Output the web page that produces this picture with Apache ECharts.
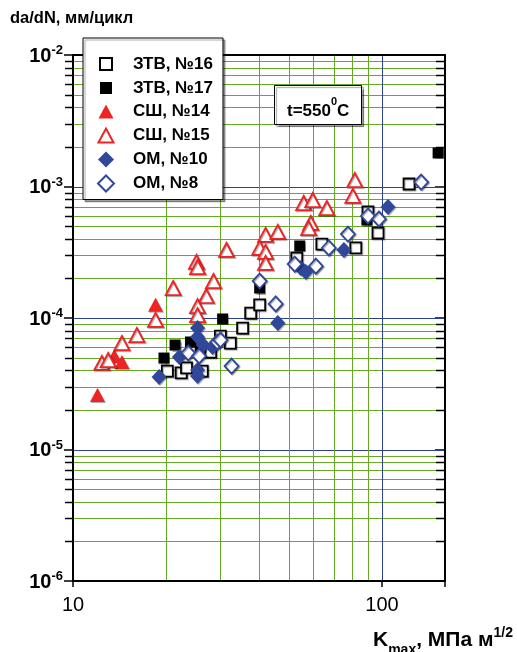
<!DOCTYPE html>
<html><head><meta charset="utf-8">
<script src="https://cdn.jsdelivr.net/npm/echarts@6/dist/echarts.min.js"></script>
<style>html,body{margin:0;padding:0;background:#fff}#c{width:517px;height:652px}</style>
</head><body><div id="c"></div>
<script>
const seriesNames = ['ЗТВ, №16', 'ЗТВ, №17', 'СШ, №14', 'СШ, №15', 'ОМ, №10', 'ОМ, №8'];

const ztv16 = [[20.2,3.95e-5],[22.4,3.82e-5],[23.3,4.17e-5],[26.2,3.95e-5],[27.9,5.51e-5],[30.0,7.29e-5],
  [32.3,6.45e-5],[35.4,8.39e-5],[37.6,1.09e-4],[40.2,1.26e-4],[53.0,2.86e-4],[63.9,3.65e-4],[82.3,3.41e-4],
  [90.1,6.40e-4],[97.1,4.43e-4],[122.4,1.045e-3]];
const ztv17 = [[19.7,4.96e-5],[21.4,6.23e-5],[24.0,6.57e-5],[25.8,6.12e-5],[30.5,9.83e-5],[40.2,1.69e-4],
  [54.2,3.53e-4],[89.4,5.56e-4],[152,1.8e-3]];
const ssh14 = [[18.5,1.26e-4],[12.0,2.6e-5],[13.6,5.14e-5],[14.4,4.63e-5]];
const ssh15 = [[12.4,4.55e-5],[13.0,4.79e-5],[14.4,6.45e-5],[16.1,7.42e-5],[18.5,9.66e-5],[21.1,1.69e-4],
  [25.1,2.67e-4],[25.3,2.44e-4],[28.5,1.91e-4],[27.0,1.47e-4],[25.3,1.23e-4],[25.3,1.05e-4],[31.4,3.29e-4],
  [42.0,4.28e-4],[46.0,4.51e-4],[40.2,3.41e-4],[42.0,3.18e-4],[42.0,2.62e-4],[55.8,7.49e-4],[59.7,7.89e-4],
  [66.3,6.86e-4],[58.8,5.28e-4],[57.9,4.83e-4],[81.7,1.12e-3],[80.5,8.47e-4]];
const om10 = [[19.0,3.56e-5],[22.1,5.05e-5],[25.3,8.39e-5],[25.3,7.17e-5],[26.4,6.23e-5],[25.3,4.02e-5],
  [25.3,3.62e-5],[28.3,6.02e-5],[46.0,9.16e-5],[54.6,2.40e-4],[56.7,2.24e-4],[75.3,3.29e-4],[104.6,6.98e-4]];
const om8 = [[23.6,5.42e-5],[25.6,5.14e-5],[29.3,6.57e-5],[30.0,6.80e-5],[32.6,4.31e-5],[40.2,1.91e-4],
  [45.3,1.28e-4],[52.2,2.57e-4],[61.1,2.48e-4],[67.3,3.41e-4],[77.6,4.35e-4],[90.1,5.97e-4],[97.8,5.66e-4],
  [133.9,1.08e-3]];

const yTickExponents = [-6, -5, -4, -3, -2];
const xTickLabels = ['10', '100'];
const X_MIN = 10, X_MAX = 160, Y_MIN = 1e-6, Y_MAX = 1e-2;
const xMinorGrid = [20, 30, 40, 50, 60, 70, 80, 90];
const xMajorGrid = [100];
const yMajorGrid = [1e-5, 1e-4, 1e-3];
const yMinorGrid = [];
[-6, -5, -4, -3].forEach(function (e) {
  [2, 3, 4, 5, 6, 7, 8, 9].forEach(function (m) { yMinorGrid.push(+(m * Math.pow(10, e)).toPrecision(3)); });
});

const RED = '#ee2424', BLUE = '#30479a', GREEN = '#66aa22', MAJ = '#2e3f90';
const FONT = 'Liberation Sans, Arial, sans-serif';
const shadow = {shadowColor: 'rgba(0,0,0,0.35)', shadowOffsetX: 1, shadowOffsetY: 1, shadowBlur: 1};

// legend icons (16x16 box, inner shape sized like the reference markers)
const ICON_SQ = 'path://M0,0M16,16M2,2L14,2L14,14L2,14Z';
const ICON_TRI = 'path://M0,0M16,16M0.5,15L8,1L15.5,15Z';
const ICON_DIA = 'path://M0,0M16,16M8,0L16,8L8,16L0,8Z';
const legendIcons = [ICON_SQ, ICON_SQ, ICON_TRI, ICON_TRI, ICON_DIA, ICON_DIA];

// grid data: [x, y, kind]  kind 0 = minor, 1 = major
const hLines = yMinorGrid.map(v => [X_MIN, v, 0]).concat(yMajorGrid.map(v => [X_MIN, v, 1]));
const vLines = xMinorGrid.map(v => [v, Y_MIN, 0]).concat(xMajorGrid.map(v => [v, Y_MIN, 1]));

function hRender(params, api) {
  const cs = params.coordSys;
  const y = Math.round(api.coord([api.value(0), api.value(1)])[1]) + 0.5;
  const major = api.value(2) === 1;
  const children = [{
    type: 'line', shape: {x1: cs.x + 1, y1: y, x2: cs.x + cs.width - 1, y2: y},
    style: {stroke: major ? MAJ : GREEN, lineWidth: 1}
  }];
  if (!major) {
    children.push({type: 'line', shape: {x1: cs.x - 8, y1: y, x2: cs.x, y2: y}, style: {stroke: '#000', lineWidth: 1.5}});
    children.push({type: 'line', shape: {x1: cs.x + cs.width - 9, y1: y, x2: cs.x + cs.width, y2: y}, style: {stroke: '#000', lineWidth: 1.5}});
  }
  return {type: 'group', children: children};
}
function vRender(params, api) {
  const cs = params.coordSys;
  const x = Math.round(api.coord([api.value(0), api.value(1)])[0]) + 0.5;
  const major = api.value(2) === 1;
  return {type: 'line', shape: {x1: x, y1: cs.y + 1, x2: x, y2: cs.y + cs.height - 1},
    style: {stroke: major ? MAJ : GREEN, lineWidth: 1}};
}

function sc(name, data, symbol, size, fill, stroke) {
  return {
    name: name, type: 'scatter', data: data, symbol: symbol, symbolSize: size, z: 3,
    itemStyle: Object.assign({color: fill, borderColor: stroke, borderWidth: fill === '#fff' ? 1.8 : 0, opacity: 1}, shadow),
    emphasis: {disabled: true}
  };
}

const chart = echarts.init(document.getElementById('c'), null, {renderer: 'canvas'});
const yLab = {
  show: true, margin: 10,
  formatter: function (v) {
    const e = Math.round(Math.log10(v));
    if (yTickExponents.indexOf(e) < 0) return '';
    return '{b|10}{s|' + e + '}';
  },
  rich: {
    b: {fontSize: 20, fontWeight: 'bold', fontFamily: FONT, color: '#000', lineHeight: 22, verticalAlign: 'bottom'},
    s: {fontSize: 13, fontWeight: 'bold', fontFamily: FONT, color: '#000', lineHeight: 22, verticalAlign: 'top', padding: [0, 0, 6, 0]}
  }
};
chart.setOption({
  animation: false,
  backgroundColor: '#fff',
  grid: {left: 73, right: 72, top: 55, bottom: 71, containLabel: false},
  xAxis: [{
    type: 'log', logBase: 10, min: X_MIN, max: X_MAX, position: 'bottom',
    axisLine: {show: true, lineStyle: {color: '#000', width: 2}},
    axisTick: {show: true, inside: false, length: 6, lineStyle: {color: '#000', width: 1.5}},
    splitLine: {show: false},
    axisLabel: {
      margin: 14, fontSize: 20, fontFamily: FONT, color: '#000',
      formatter: function (v) {
        const s = String(Math.round(v));
        return xTickLabels.indexOf(s) >= 0 ? s : '';
      }
    }
  }, {
    type: 'log', logBase: 10, min: X_MIN, max: X_MAX, position: 'top',
    axisLine: {show: true, lineStyle: {color: '#000', width: 2}},
    axisTick: {show: false}, axisLabel: {show: false}, splitLine: {show: false}
  }],
  yAxis: [{
    type: 'log', logBase: 10, min: Y_MIN, max: Y_MAX, position: 'left',
    axisLine: {show: true, lineStyle: {color: '#000', width: 2}},
    axisTick: {show: true, inside: false, length: 9, lineStyle: {color: '#000', width: 1.5}},
    splitLine: {show: false},
    axisLabel: yLab
  }, {
    type: 'log', logBase: 10, min: Y_MIN, max: Y_MAX, position: 'right',
    axisLine: {show: true, lineStyle: {color: '#000', width: 2}},
    axisTick: {show: true, inside: true, length: 10, lineStyle: {color: '#000', width: 1.5}},
    splitLine: {show: false}, axisLabel: {show: false}
  }],
  legend: {
    orient: 'vertical', left: 83, top: 38,
    padding: [17, 10, 7, 14], itemWidth: 16, itemHeight: 16, itemGap: 6.5,
    backgroundColor: '#fff', borderColor: '#000', borderWidth: 1, borderRadius: 0,
    shadowColor: 'rgba(0,0,0,0.35)', shadowOffsetX: 2, shadowOffsetY: 2, shadowBlur: 1,
    selectedMode: false,
    textStyle: {fontSize: 17, fontWeight: 'bold', fontFamily: FONT, color: '#000', padding: [0, 0, 0, 14]},
    data: seriesNames.map((n, i) => ({name: n, icon: legendIcons[i]}))
  },
  graphic: [
    {type: 'text', left: 10, top: 10, style: {text: 'da/dN, мм/цикл', fontSize: 16.5, fontWeight: 'bold', fontFamily: FONT, fill: '#000'}},
    {type: 'text', left: 373, top: 626, style: {
      text: '{k|K}{sub|max}{k|, МПа м}{sup|1/2}',
      rich: {
        k: {fontSize: 21, fontWeight: 'bold', fontFamily: FONT, fill: '#000', lineHeight: 25, verticalAlign: 'bottom'},
        sub: {fontSize: 14, fontWeight: 'bold', fontFamily: FONT, fill: '#000', lineHeight: 25, verticalAlign: 'bottom', padding: [0, 0, -6, 0]},
        sup: {fontSize: 14, fontWeight: 'bold', fontFamily: FONT, fill: '#000', lineHeight: 25, verticalAlign: 'top'}
      }
    }},
    {type: 'rect', left: 274, top: 85, z: 10, shape: {width: 87, height: 39},
      style: {fill: '#fff', stroke: '#000', lineWidth: 1, shadowColor: 'rgba(0,0,0,0.35)', shadowOffsetX: 2, shadowOffsetY: 2, shadowBlur: 1}},
    {type: 'text', left: 287, top: 96, z: 11, style: {
      text: '{t|t=550}{s|0}{t|C}',
      rich: {
        t: {fontSize: 17, fontWeight: 'bold', fontFamily: FONT, fill: '#000', lineHeight: 24, verticalAlign: 'bottom'},
        s: {fontSize: 11, fontWeight: 'bold', fontFamily: FONT, fill: '#000', lineHeight: 24, verticalAlign: 'top'}
      }
    }}
  ],
  series: [
    {type: 'custom', name: '_hgrid', data: hLines, z: 1, silent: true, clip: false,
      encode: {x: 0, y: 1}, renderItem: hRender},
    {type: 'custom', name: '_vgrid', data: vLines, z: 1, silent: true, clip: false,
      encode: {x: 0, y: 1}, renderItem: vRender},
    sc(seriesNames[0], ztv16, 'rect', 11, '#fff', '#000'),
    sc(seriesNames[1], ztv17, 'rect', 11, '#000', '#000'),
    sc(seriesNames[2], ssh14, 'triangle', [15, 14], RED, RED),
    sc(seriesNames[3], ssh15, 'triangle', [15, 14], '#fff', RED),
    sc(seriesNames[4], om10, 'diamond', [15, 16], BLUE, BLUE),
    sc(seriesNames[5], om8, 'diamond', [14, 15], '#fff', BLUE)
  ]
});
</script></body></html>
